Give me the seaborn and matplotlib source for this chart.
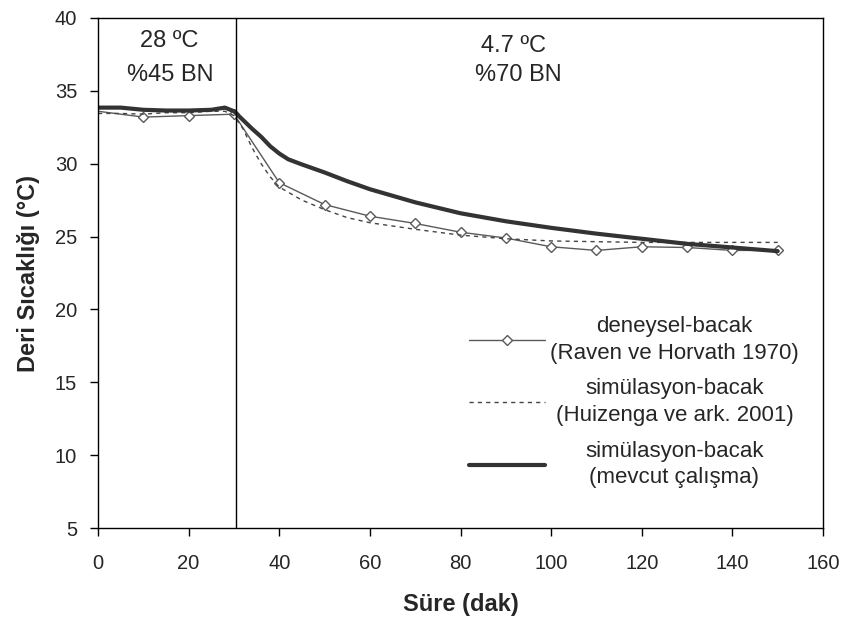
import matplotlib
matplotlib.use("Agg")
import matplotlib.pyplot as plt
import seaborn as sns
import pandas as pd

# Experimental data (Raven & Horvath 1970)
exp_x = [0, 10, 20, 30, 40, 50, 60, 70, 80, 90, 100, 110, 120, 130, 140, 150]
exp_y = [33.6, 33.2, 33.3, 33.4, 28.7, 27.2, 26.4, 25.9, 25.3, 24.9, 24.3, 24.05, 24.3, 24.25, 24.05, 24.05]

# Simulation (Huizenga et al. 2001)
huiz_x = [0, 5, 10, 15, 20, 25, 28, 30, 32, 34, 36, 38, 40, 45, 50, 55, 60, 70, 80, 90, 100, 110, 120, 130, 140, 150]
huiz_y = [33.45, 33.45, 33.4, 33.5, 33.5, 33.6, 33.6, 33.3, 32.4, 31.1, 30.0, 29.1, 28.4, 27.5, 26.85, 26.3, 25.95, 25.5, 25.1, 24.85, 24.7, 24.65, 24.6, 24.6, 24.6, 24.6]

# Simulation (present study)
cur_x = [0, 5, 10, 15, 20, 25, 28, 30, 32, 34, 36, 38, 40, 42, 45, 50, 55, 60, 70, 80, 90, 100, 110, 120, 130, 140, 150]
cur_y = [33.85, 33.85, 33.7, 33.65, 33.65, 33.7, 33.85, 33.6, 33.0, 32.4, 31.85, 31.2, 30.7, 30.3, 29.95, 29.4, 28.8, 28.25, 27.35, 26.6, 26.05, 25.6, 25.2, 24.85, 24.5, 24.25, 24.0]

labels = ["deneysel-bacak\n(Raven ve Horvath 1970)",
          "simülasyon-bacak\n(Huizenga ve ark. 2001)",
          "simülasyon-bacak\n(mevcut çalışma)"]

x_ticks = [0, 20, 40, 60, 80, 100, 120, 140, 160]
y_ticks = [5, 10, 15, 20, 25, 30, 35, 40]

sns.set_theme(style="ticks")
plt.rcParams['font.family'] = ['Liberation Sans', 'DejaVu Sans']

fig = plt.figure(figsize=(8.5, 6.26), dpi=100)
ax = fig.add_axes([98/850, 1-528/626, (823-98)/850, (528-18)/626])

df_exp = pd.DataFrame({"x": exp_x, "y": exp_y})
df_h = pd.DataFrame({"x": huiz_x, "y": huiz_y})
df_c = pd.DataFrame({"x": cur_x, "y": cur_y})

sns.lineplot(data=df_exp, x="x", y="y", ax=ax, color="#5a5a5a", lw=1.0,
             marker="D", markersize=5.5, markerfacecolor="white",
             markeredgecolor="#5a5a5a", markeredgewidth=1.0,
             markevery=list(range(1, len(exp_x))), label=labels[0])
sns.lineplot(data=df_h, x="x", y="y", ax=ax, color="#444444", lw=1.0,
             linestyle=(0, (3, 3)), label=labels[1])
sns.lineplot(data=df_c, x="x", y="y", ax=ax, color="#333333", lw=3.0,
             label=labels[2])

ax.axvline(30.5, color="black", lw=1.0)

ax.set_xlim(0, 160)
ax.set_ylim(5, 40)
ax.set_xticks(x_ticks)
ax.set_yticks(y_ticks)
ax.tick_params(axis="both", labelsize=14.5, length=6, width=1, color="black",
               direction="out")
ax.tick_params(axis="x", pad=13)
ax.tick_params(axis="y", pad=9)
for s in ax.spines.values():
    s.set_visible(True)
    s.set_color("black")
    s.set_linewidth(1.0)

ax.set_xlabel("Süre (dak)", fontsize=17, fontweight="bold", labelpad=14)
ax.set_ylabel("Deri Sıcaklığı (°C)", fontsize=17, fontweight="bold", labelpad=11)

ax.text(15.7, 38.45, "28 ºC", ha="center", va="center", fontsize=17)
ax.text(15.9, 36.1, "%45 BN", ha="center", va="center", fontsize=17)
ax.text(91.6, 38.1, "4.7 ºC", ha="center", va="center", fontsize=17)
ax.text(92.8, 36.1, "%70 BN", ha="center", va="center", fontsize=17)

leg = ax.legend(loc="upper left", bbox_to_anchor=(469/850, 1-316/626),
                bbox_transform=fig.transFigure, frameon=False, fontsize=16,
                handlelength=3.4, handletextpad=0.25, labelspacing=0.66,
                borderpad=0, borderaxespad=0)
texts = leg.get_texts()
for t in texts:
    t.set_multialignment("center")
    t.set_linespacing(1.35)

# center each legend label block within the widest one
fig.canvas.draw()
r = fig.canvas.get_renderer()
widths = [t.get_window_extent(r).width for t in texts]
wmax = max(widths)
for t, w in zip(texts, widths):
    t.set_x((wmax - w) / 2)

fig.savefig("out.png", dpi=100)
